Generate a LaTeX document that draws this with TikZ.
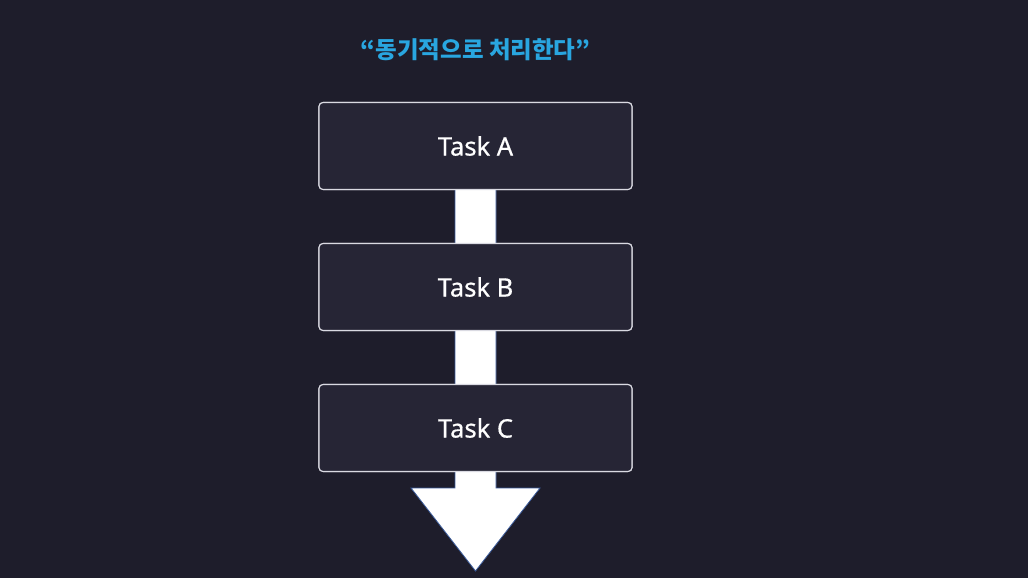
\documentclass[tikz,border=0pt]{standalone}
\usepackage{fontspec}
\setmainfont{Noto Sans}
\newfontfamily\taskfont[FakeBold=0.6]{Noto Sans}
\newfontfamily\krfont{Noto Sans CJK KR}
\usetikzlibrary{calc}
\definecolor{bgc}{HTML}{1E1D2B}
\definecolor{boxfill}{HTML}{262535}
\definecolor{boxline}{HTML}{DADAE2}
\definecolor{titlec}{HTML}{29A6E0}
\definecolor{arrline}{HTML}{3A5A9A}
\begin{document}
\begin{tikzpicture}[x=1pt,y=-1pt,
  taskbox/.style={draw=boxline,line width=1.1pt,fill=boxfill,rounded corners=4pt,
    minimum width=313pt,minimum height=87pt,inner sep=0pt,text=white,
    font=\taskfont\fontsize{25.5}{30}\selectfont},
  flowarrow/.style={fill=white,draw=arrline,line width=0.8pt,line join=miter}]
\useasboundingbox[fill=bgc] (0,0) rectangle (1028,578);
\node[text=titlec,font=\krfont\bfseries\fontsize{23.5}{28}\selectfont] (title) at (475.5,50) {“동기적으로 처리한다”};
\node[taskbox] (A) at (475.5,146) {};
\node[taskbox] (B) at (475.5,287) {};
\node[taskbox] (C) at (475.5,428) {};
\coordinate (tip) at (475.5,571);
\draw[flowarrow] ($(A.south)+(-20.5,-6)$) -- ($(A.south)+(-20.5,0)$) |- ($(tip)+(-64.5,-83)$) -- (tip) -- ($(tip)+(64.5,-83)$) -| ($(A.south)+(20.5,0)$) -- ($(A.south)+(20.5,-6)$) -- cycle;
\node[taskbox] at (A) {Task A};
\node[taskbox] at (B) {Task B};
\node[taskbox] at (C) {Task C};
\end{tikzpicture}
\end{document}
